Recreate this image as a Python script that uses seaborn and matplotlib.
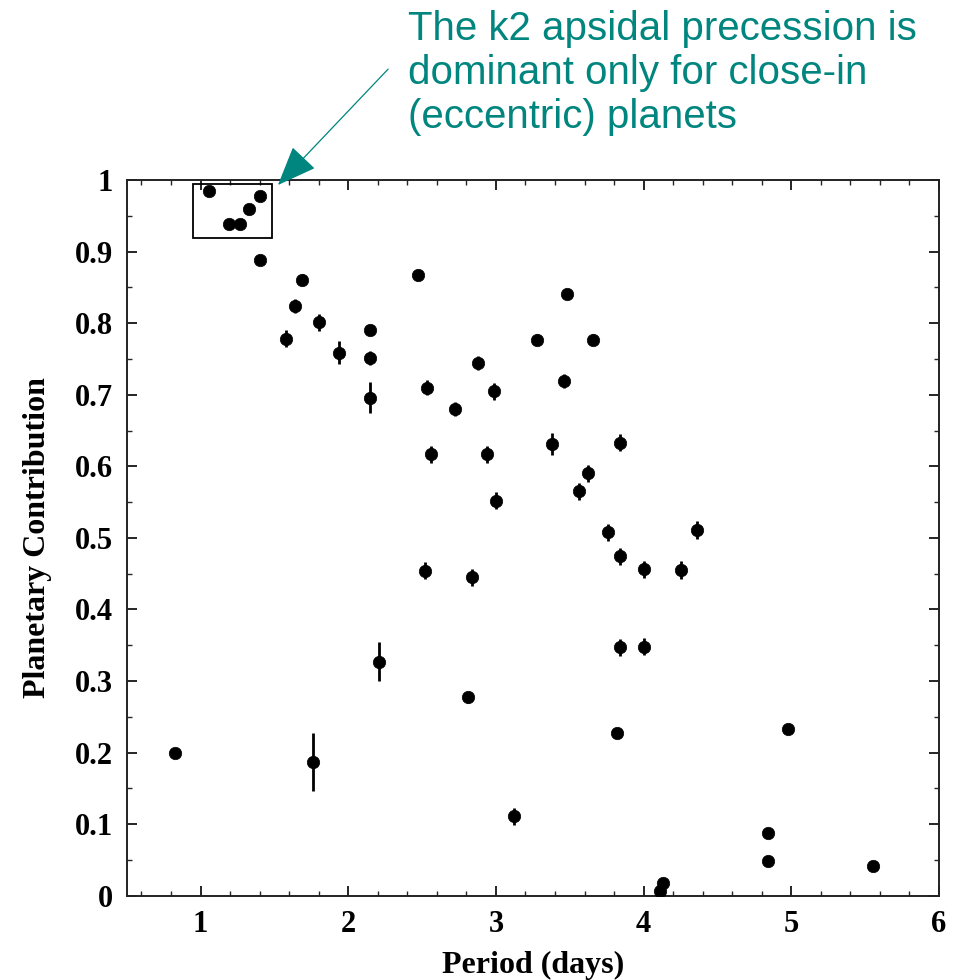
import matplotlib
matplotlib.use("Agg")
import matplotlib.pyplot as plt
from matplotlib.patches import Rectangle
from matplotlib.ticker import MultipleLocator
import seaborn as sns
import pandas as pd

period = [0.83, 1.06, 1.19, 1.27, 1.33, 1.40, 1.40, 1.58, 1.64, 1.69,
          1.76, 1.80, 1.94, 2.15, 2.15, 2.15, 2.21, 2.47, 2.52, 2.53,
          2.56, 2.72, 2.81, 2.84, 2.88, 2.94, 2.99, 3.00, 3.12, 3.28,
          3.38, 3.46, 3.48, 3.56, 3.62, 3.66, 3.76, 3.82, 3.84, 3.84,
          3.84, 4.00, 4.00, 4.11, 4.13, 4.25, 4.36, 4.84, 4.84, 4.98,
          5.55]
contribution = [0.200, 0.984, 0.939, 0.939, 0.959, 0.977, 0.888, 0.778, 0.824, 0.861,
                0.187, 0.801, 0.759, 0.790, 0.751, 0.696, 0.327, 0.867, 0.454, 0.710,
                0.617, 0.680, 0.277, 0.445, 0.744, 0.617, 0.705, 0.552, 0.111, 0.777,
                0.631, 0.719, 0.841, 0.565, 0.590, 0.777, 0.508, 0.227, 0.633, 0.474,
                0.347, 0.456, 0.348, 0.007, 0.018, 0.455, 0.511, 0.087, 0.048, 0.233,
                0.042]
error = [0.000, 0.000, 0.000, 0.000, 0.000, 0.000, 0.000, 0.012, 0.010, 0.008,
         0.040, 0.012, 0.016, 0.000, 0.010, 0.022, 0.027, 0.000, 0.012, 0.010,
         0.012, 0.010, 0.008, 0.012, 0.010, 0.012, 0.012, 0.012, 0.012, 0.008,
         0.015, 0.010, 0.000, 0.012, 0.012, 0.008, 0.012, 0.000, 0.012, 0.012,
         0.012, 0.012, 0.012, 0.000, 0.000, 0.012, 0.012, 0.000, 0.000, 0.006,
         0.000]

x_ticks = [1, 2, 3, 4, 5, 6]
y_ticks = [0, 0.1, 0.2, 0.3, 0.4, 0.5, 0.6, 0.7, 0.8, 0.9, 1.0]
y_tick_labels = ["0", "0.1", "0.2", "0.3", "0.4", "0.5", "0.6", "0.7", "0.8", "0.9", "1"]
x_label = "Period (days)"
y_label = "Planetary Contribution"
note = "The k2 apsidal precession is\ndominant only for close-in\n(eccentric) planets"
teal = "#00857f"

df = pd.DataFrame({"period": period, "contribution": contribution, "error": error})

sns.set_theme(style="ticks")
plt.rcParams["font.family"] = ["Liberation Serif", "DejaVu Serif"]

fig = plt.figure(figsize=(9.57, 9.80), dpi=100)
ax = fig.add_axes([0.1324, 0.0860, 0.8488, 0.7303])

ax.errorbar(df["period"], df["contribution"], yerr=df["error"], fmt="none",
            ecolor="black", elinewidth=2.0, capsize=0, zorder=2)
sns.scatterplot(data=df, x="period", y="contribution", ax=ax, color="black",
                s=80, edgecolor="black", linewidth=0.5, zorder=3, legend=False)

ax.add_patch(Rectangle((0.95, 0.919), 0.531, 0.075, fill=False,
                       edgecolor="black", linewidth=1.3, zorder=4))

ax.set_xlim(0.5, 6.0)
ax.set_ylim(0, 1.0)
ax.set_xticks(x_ticks)
ax.set_xticklabels([str(t) for t in x_ticks])
ax.set_yticks(y_ticks)
ax.set_yticklabels(y_tick_labels)
ax.xaxis.set_minor_locator(MultipleLocator(0.2))
ax.yaxis.set_minor_locator(MultipleLocator(0.05))
ax.tick_params(axis="both", which="major", direction="in", length=7, width=1.2,
               top=True, right=True, labelsize=22, pad=10, colors="black")
ax.tick_params(axis="both", which="minor", direction="in", length=3.5, width=1.0,
               top=True, right=True)
for lab in ax.get_xticklabels() + ax.get_yticklabels():
    lab.set_fontweight("bold")
for sp in ax.spines.values():
    sp.set_visible(True)
    sp.set_linewidth(1.4)
    sp.set_color("#222222")

ax.set_xlabel(x_label, fontsize=23, fontweight="bold", labelpad=9, color="black")
ax.set_ylabel(y_label, fontsize=23, fontweight="bold", labelpad=16, color="black")

ax.annotate("", xy=(1.524, 0.993), xytext=(2.27, 1.155), xycoords="data",
            textcoords="data", annotation_clip=False,
            arrowprops=dict(arrowstyle="-|>,head_length=0.4,head_width=0.16",
                            mutation_scale=63, color=teal, lw=0.9,
                            shrinkA=0, shrinkB=0))

fig.text(408 / 957, 1 - 10 / 980, note, ha="left", va="top", color=teal,
         fontsize=29, family=["Liberation Sans", "DejaVu Sans"], linespacing=1.2)

fig.savefig("out.png", dpi=100)
